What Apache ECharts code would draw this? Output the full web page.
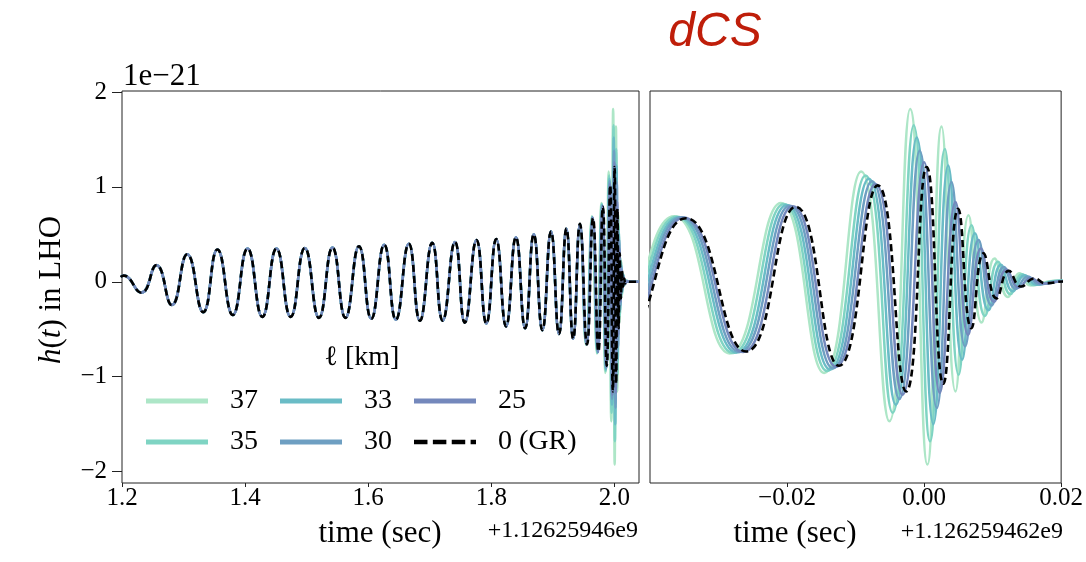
<!DOCTYPE html>
<html><head><meta charset="utf-8">
<script src="https://cdn.jsdelivr.net/npm/echarts@6/dist/echarts.min.js"></script>
<style>html,body{margin:0;padding:0;background:#fff}#c{width:1086px;height:562px}</style>
</head><body><div id="c"></div>
<script>
// ---- data (time relative to 1.12625946e9 s, strain in units of 1e-21) ----
const seriesNames = ['37', '35', '33', '30', '25', '0 (GR)'];
const seriesColors = ['#ade6c7', '#7fd4c3', '#6abcc6', '#6e9fc2', '#7488bc', '#000000'];

// early inspiral: all curves coincide (peaks and troughs)
const inspiralT = [1.198, 1.2025, 1.2315, 1.256, 1.281, 1.306, 1.332, 1.355, 1.380, 1.404, 1.428, 1.451, 1.474, 1.497, 1.520, 1.542, 1.563, 1.585, 1.605, 1.626, 1.645, 1.666, 1.684, 1.704, 1.721, 1.741, 1.757, 1.776, 1.792, 1.808, 1.824, 1.840, 1.855, 1.869, 1.883, 1.897, 1.910, 1.922, 1.933, 1.944];
const inspiralH = [0.05, 0.065, -0.115, 0.175, -0.245, 0.29, -0.32, 0.34, -0.35, 0.35, -0.37, 0.35, -0.37, 0.355, -0.38, 0.36, -0.38, 0.375, -0.39, 0.39, -0.40, 0.40, -0.41, 0.41, -0.41, 0.42, -0.43, 0.44, -0.44, 0.45, -0.47, 0.47, -0.49, 0.50, -0.51, 0.53, -0.55, 0.56, -0.60, 0.61];

// late inspiral, merger and ringdown for each coupling length
const t37 = [1.9540, 1.96352, 1.97164, 1.97910, 1.98541, 1.99081, 1.99493, 1.99797, 2.00048, 2.00255, 2.00458, 2.00649, 2.00838, 2.01029, 2.01222, 2.01396, 2.01555, 2.0190, 2.025, 2.04];
const h37 = [-0.665, 0.69, -0.755, 0.83, -0.96, 1.163, -1.47, 1.82, -1.925, 1.635, -1.155, 0.70, -0.43, 0.245, -0.16, 0.09, -0.04, 0.01, 0, 0];
const t35 = [1.9543, 1.96388, 1.97214, 1.97954, 1.98584, 1.99145, 1.99541, 1.99849, 2.00087, 2.00304, 2.00504, 2.00693, 2.00888, 2.01077, 2.01258, 2.01432, 2.01599, 2.0195, 2.025, 2.04];
const h35 = [-0.66, 0.685, -0.75, 0.82, -0.94, 1.12, -1.38, 1.65, -1.68, 1.40, -0.98, 0.595, -0.36, 0.21, -0.13, 0.08, -0.035, 0.01, 0, 0];
const t33 = [1.9546, 1.96425, 1.97265, 1.97997, 1.98628, 1.99193, 1.99588, 1.99893, 2.00135, 2.00352, 2.00555, 2.00743, 2.00939, 2.01120, 2.01294, 2.01468, 2.01642, 2.0198, 2.025, 2.04];
const h33 = [-0.66, 0.68, -0.745, 0.81, -0.925, 1.086, -1.295, 1.52, -1.50, 1.225, -0.82, 0.51, -0.30, 0.18, -0.10, 0.07, -0.03, 0.01, 0, 0];
const t30 = [1.9549, 1.96461, 1.97309, 1.98041, 1.98671, 1.99241, 1.99638, 1.99936, 2.00186, 2.00400, 2.00599, 2.00794, 2.00983, 2.01164, 2.01338, 2.01512, 2.01686, 2.0202, 2.025, 2.04];
const h30 = [-0.66, 0.68, -0.74, 0.80, -0.91, 1.06, -1.235, 1.38, -1.33, 1.05, -0.68, 0.44, -0.25, 0.155, -0.075, 0.055, -0.025, 0.005, 0, 0];
const t25 = [1.9552, 1.96497, 1.97359, 1.98084, 1.98714, 1.99290, 1.99686, 2.00000, 2.00229, 2.00458, 2.00642, 2.00830, 2.01019, 2.01200, 2.01381, 2.01555, 2.01729, 2.0205, 2.025, 2.04];
const h25 = [-0.66, 0.675, -0.74, 0.795, -0.895, 1.03, -1.19, 1.26, -1.17, 0.84, -0.56, 0.35, -0.21, 0.13, -0.06, 0.04, -0.02, 0.005, 0, 0];
const tGR = [1.9555, 1.96526, 1.97403, 1.98128, 1.98758, 1.99323, 1.99739, 2.00038, 2.00280, 2.00497, 2.00690, 2.00867, 2.01055, 2.01236, 2.01414, 2.01609, 2.01772, 2.0205, 2.025, 2.04];
const hGR = [-0.66, 0.67, -0.735, 0.79, -0.885, 1.016, -1.155, 1.21, -1.075, 0.77, -0.49, 0.30, -0.175, 0.115, -0.05, 0.035, -0.015, 0.003, 0, 0];

const lateT = [t37, t35, t33, t30, t25, tGR];
const lateH = [h37, h35, h33, h30, h25, hGR];

// axes / ticks
const yTicks = [-2, -1, 0, 1, 2];
const xTicksLeft = [1.2, 1.4, 1.6, 1.8, 2.0];
const xTickLabelsLeft = ['1.2', '1.4', '1.6', '1.8', '2.0'];
const xTicksRight = [1.98, 2.00, 2.02];
const xTickLabelsRight = ['\u22120.02', '0.00', '0.02'];

// ---- build chart ----
const SERIF = '"Liberation Serif", "Times New Roman", serif';
function pairs(ta, ha) { return ta.map((t, i) => [t, ha[i]]); }
function lookup(vals, labels, v) {
  for (let i = 0; i < vals.length; i++) if (Math.abs(vals[i] - v) < 1e-6) return labels[i];
  return '';
}

const series = [];
for (let g = 0; g < 2; g++) {
  seriesNames.forEach((name, i) => {
    const data = pairs(inspiralT, inspiralH).concat(pairs(lateT[i], lateH[i]));
    const isGR = i === seriesNames.length - 1;
    series.push({
      name: name, type: 'line', xAxisIndex: g, yAxisIndex: g, data: data,
      smooth: true, symbol: 'none', animation: false, silent: true, clip: true,
      z: 2 + i,
      itemStyle: { color: seriesColors[i] },
      lineStyle: isGR ? { color: seriesColors[i], width: 2.6, type: [7, 4] }
                      : { color: seriesColors[i], width: 2.5 }
    });
  });
}

const DASH_ICON = 'path://M0,0h15v5h-15z M21,0h15v5h-15z M42,0h15v5h-15z M63,0h6v5h-6z';
function legendItems(idx) {
  return idx.map(i => i === seriesNames.length - 1
    ? { name: seriesNames[i], icon: DASH_ICON }
    : { name: seriesNames[i], icon: 'rect' });
}
const legendText = { fontSize: 28, fontFamily: SERIF, color: '#000', padding: [0, 0, 0, 17], lineHeight: 30 };

const tickStyle = { color: '#222', width: 1 };
const option = {
  backgroundColor: '#fff',
  animation: false,
  grid: [
    { left: 122, top: 91, width: 517, height: 392, show: true, borderColor: '#222', borderWidth: 1, backgroundColor: 'transparent' },
    { left: 650, top: 91, width: 413, height: 392, show: true, borderColor: '#222', borderWidth: 1, backgroundColor: 'transparent' }
  ],
  xAxis: [
    { type: 'value', gridIndex: 0, min: 1.2, max: 2.04, position: 'bottom',
      axisLine: { show: false, onZero: false }, splitLine: { show: false },
      axisTick: { show: true, length: 4, lineStyle: tickStyle, customValues: xTicksLeft },
      axisLabel: { customValues: xTicksLeft, margin: 3, color: '#000', fontSize: 25, fontFamily: SERIF,
                   formatter: v => lookup(xTicksLeft, xTickLabelsLeft, v) } },
    { type: 'value', gridIndex: 1, min: 1.96, max: 2.02, position: 'bottom',
      axisLine: { show: false, onZero: false }, splitLine: { show: false },
      axisTick: { show: true, length: 4, lineStyle: tickStyle, customValues: xTicksRight },
      axisLabel: { customValues: xTicksRight, margin: 3, color: '#000', fontSize: 25, fontFamily: SERIF,
                   formatter: v => lookup(xTicksRight, xTickLabelsRight, v) } }
  ],
  yAxis: [
    { type: 'value', gridIndex: 0, min: -2.12, max: 2.01, position: 'left',
      axisLine: { show: false, onZero: false }, splitLine: { show: false },
      axisTick: { show: true, length: 10, lineStyle: tickStyle, customValues: yTicks },
      axisLabel: { customValues: yTicks, margin: 15, color: '#000', fontSize: 25, fontFamily: SERIF,
                   formatter: v => (v < 0 ? '\u2212' + Math.abs(v) : String(v)) } },
    { type: 'value', gridIndex: 1, min: -2.12, max: 2.01,
      axisLine: { show: false, onZero: false }, splitLine: { show: false },
      axisTick: { show: false }, axisLabel: { show: false } }
  ],
  legend: [
    { data: legendItems([0, 2, 4]), left: 146, top: 386, orient: 'horizontal', padding: 0,
      itemWidth: 62, itemHeight: 5, itemGap: 22, selectedMode: false, textStyle: legendText },
    { data: legendItems([1, 3, 5]), left: 146, top: 427, orient: 'horizontal', padding: 0,
      itemWidth: 62, itemHeight: 5, itemGap: 22, selectedMode: false, textStyle: legendText }
  ],
  graphic: [
    { type: 'text', x: 715, y: 33, style: { text: 'dCS', font: 'italic 48px "Liberation Sans", Arial, sans-serif', fill: '#bf1e0a', align: 'center', verticalAlign: 'middle' } },
    { type: 'text', x: 123, y: 77, style: { text: '1e\u221221', font: '31px ' + SERIF, fill: '#000', align: 'left', verticalAlign: 'middle' } },
    { type: 'text', x: 638, y: 531, style: { text: '+1.12625946e9', font: '24px ' + SERIF, fill: '#000', align: 'right', verticalAlign: 'middle' } },
    { type: 'text', x: 1063, y: 532, style: { text: '+1.126259462e9', font: '24px ' + SERIF, fill: '#000', align: 'right', verticalAlign: 'middle' } },
    { type: 'text', x: 380, y: 534, style: { text: 'time (sec)', font: '31px ' + SERIF, fill: '#000', align: 'center', verticalAlign: 'middle' } },
    { type: 'text', x: 795, y: 534, style: { text: 'time (sec)', font: '31px ' + SERIF, fill: '#000', align: 'center', verticalAlign: 'middle' } },
    { type: 'text', x: 362, y: 358, style: { text: '\u2113 [km]', font: '28px ' + SERIF, fill: '#000', align: 'center', verticalAlign: 'middle' } },
    { type: 'text', x: 52, y: 290, rotation: Math.PI / 2,
      style: { text: '{i|h}({i|t}) in LHO', font: '31px ' + SERIF, fill: '#000', align: 'center', verticalAlign: 'middle',
               rich: { i: { fontStyle: 'italic', fontFamily: SERIF, fontSize: 31, fill: '#000' } } } }
  ],
  series: series
};

const chart = echarts.init(document.getElementById('c'), null, { renderer: 'canvas' });
chart.setOption(option);
</script>
</body></html>
